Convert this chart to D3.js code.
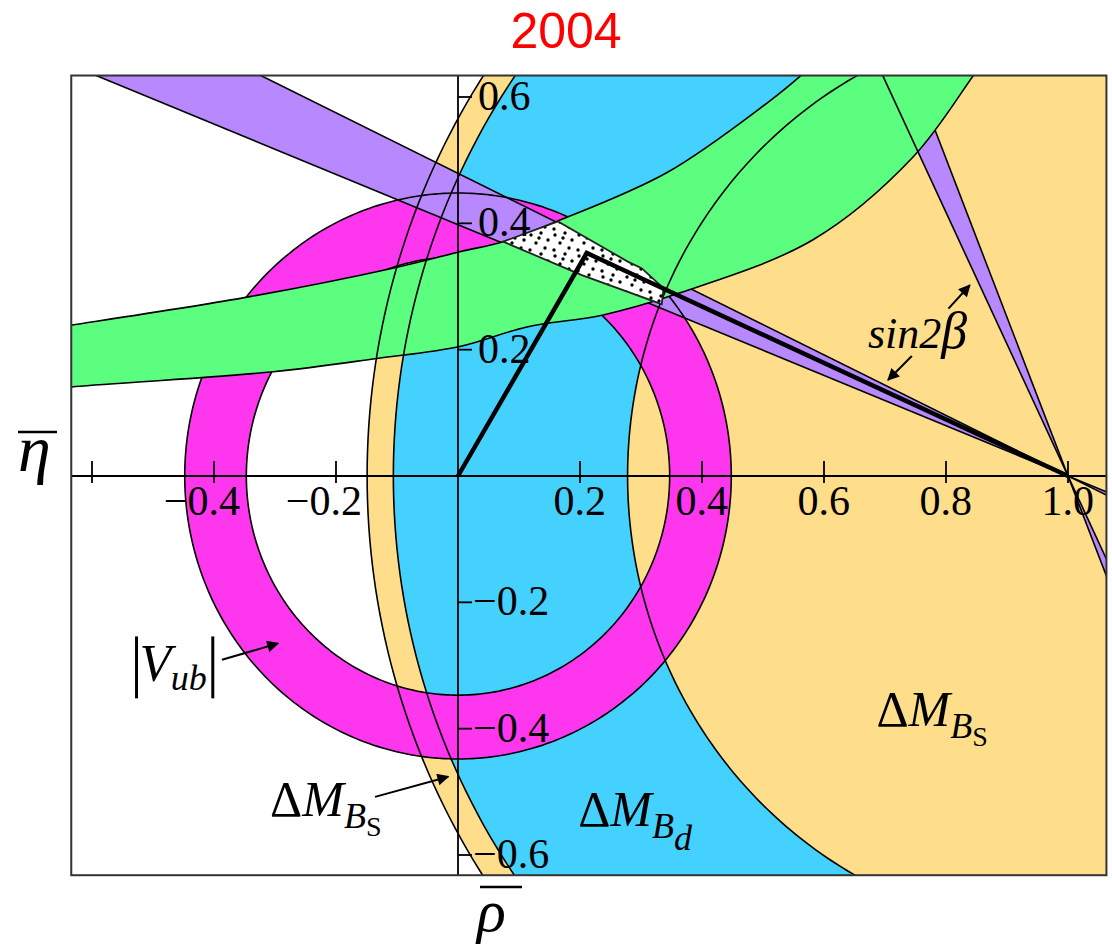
<!DOCTYPE html>
<html><head><meta charset="utf-8">
<script src="https://cdn.jsdelivr.net/npm/d3@7"></script>
<style>body{margin:0;background:#fff}svg{display:block}</style>
</head><body><svg id="c" width="1112" height="949"></svg>
<script>
// ---------------- data (data units rho/eta) ----------------
const rhoTicks = [-0.6, -0.4, -0.2, 0.2, 0.4, 0.6, 0.8, 1.0];
const rhoTickLabels = ["", "−0.4", "−0.2", "0.2", "0.4", "0.6", "0.8", "1.0"];
const etaTicks = [0.6, 0.4, 0.2, -0.2, -0.4, -0.6];
const etaTickLabels = ["0.6", "0.4", "0.2", "−0.2", "−0.4", "−0.6"];
const rhoRange = [-0.634, 1.063];
const etaRange = [-0.632, 0.634];

// |Vub| ring centred at origin
const vubCenter = [0, 0];
const vubRadii = [0.347, 0.448];
// Delta M circles centred at (1,0)
const dmCenter = [1, 0];
const dmdRadii = [0.722, 1.106];
const dmsRadius = 1.149;
// sin2beta: allowed beta range (degrees); two solutions beta and 90-beta
const betaRange = [21.7, 25.6];
// epsilon_K band boundaries
const epsKUpper = [[-0.66,0.235],[-0.633,0.239],[-0.341,0.284],[-0.107,0.329],[0.003,0.355],[0.074,0.371],[0.162,0.403],[0.342,0.48],[0.506,0.590],[0.561,0.633],[0.59,0.66]];
const epsKLower = [[-0.66,0.138],[-0.633,0.141],[-0.303,0.165],[-0.133,0.186],[0.003,0.205],[0.113,0.236],[0.238,0.255],[0.364,0.290],[0.582,0.374],[0.746,0.505],[0.844,0.633],[0.864,0.66]];
// combined allowed region
const allowedRegion = [[0.074,0.371],[0.164,0.403],[0.279,0.339],[0.301,0.329],[0.337,0.297],[0.334,0.272],[0.203,0.318]];
// unitarity triangle
const triangle = [[0,0],[0.211,0.353],[1,0]];

// annotations (anchors in data units)
const sinLabelPos = [0.672, 0.203];
const sinArrows = [[[0.804,0.265],[0.839,0.302]], [[0.744,0.190],[0.705,0.152]]];
const vubLabelPos = [-0.522, -0.325];
const vubSubPos = [-0.471, -0.339];
const vubBars = [[-0.527, -0.402], [-0.254, -0.352]];
const vubArrow = [[-0.387,-0.291],[-0.295,-0.265]];
const dmsLeftPos = [-0.308, -0.539];
const dmsLeftArrow = [[-0.136,-0.508],[-0.016,-0.476]];
const dmdPos = [0.197, -0.554];
const dmsRightPos = [0.686, -0.396];

// ---------------- drawing ----------------
const SERIF = "'Liberation Serif','Times New Roman',serif";
const YEL = "#FEDE8B", BLUE = "#45D1FE", MAG = "#FE36EE", GREEN = "#5BFE7E", PURP = "#B888FE";
const svg = d3.select("#c");
const x = d3.scaleLinear().domain([-0.6, 1.0]).range([92, 1068]);
const y = d3.scaleLinear().domain([-0.6, 0.6]).range([855, 97]);
const X0 = x(rhoRange[0]), X1 = x(rhoRange[1]), Y0 = y(etaRange[1]), Y1 = y(etaRange[0]);

const defs = svg.append("defs");
defs.append("clipPath").attr("id", "clip").append("rect")
  .attr("x", X0).attr("y", Y0).attr("width", X1 - X0).attr("height", Y1 - Y0);
const pat = defs.append("pattern").attr("id", "dots").attr("patternUnits", "userSpaceOnUse")
  .attr("width", 24).attr("height", 21);
pat.append("rect").attr("width", 24).attr("height", 21).attr("fill", "#fff");
[[3,4],[13,2],[20,9],[8,12],[17,17],[2,19],[11,7]].forEach(p =>
  pat.append("circle").attr("cx", p[0]).attr("cy", p[1]).attr("r", 1.7).attr("fill", "#000"));
defs.append("marker").attr("id", "arr").attr("viewBox", "0 0 10 10")
  .attr("refX", 9).attr("refY", 5).attr("markerWidth", 15).attr("markerHeight", 12)
  .attr("markerUnits", "userSpaceOnUse").attr("orient", "auto")
  .append("path").attr("d", "M0,0 L10,5 L0,10 z").attr("fill", "#000");

const line = d3.line().x(d => x(d[0])).y(d => y(d[1]));
const curve = d3.line().x(d => x(d[0])).y(d => y(d[1])).curve(d3.curveCatmullRom.alpha(0.5));
const rad = Math.PI / 180;
function circ(c, r) {
  const pts = d3.range(0, 360, 1).map(a => [c[0] + r * Math.cos(a * rad), c[1] + r * Math.sin(a * rad)]);
  return line(pts) + "Z";
}
const L = 4;
function dir(a) { return [-Math.cos(a * rad), Math.sin(a * rad)]; }
function wedge(a1, a2) {
  const d1 = dir(a1), d2 = dir(a2), c = dmCenter;
  const pts = [[c[0] + L*d1[0], c[1] + L*d1[1]], [c[0] + L*d2[0], c[1] + L*d2[1]], c,
               [c[0] - L*d2[0], c[1] - L*d2[1]], [c[0] - L*d1[0], c[1] - L*d1[1]], c];
  return line(pts) + "Z";
}
function ray(a) {
  const d = dir(a), c = dmCenter;
  return line([[c[0] + L*d[0], c[1] + L*d[1]], [c[0] - L*d[0], c[1] - L*d[1]]]);
}

const g = svg.append("g").attr("clip-path", "url(#clip)");
// fills
g.append("path").attr("d", circ(dmCenter, dmsRadius)).attr("fill", YEL);
g.append("path").attr("d", circ(dmCenter, dmdRadii[1]) + circ(dmCenter, dmdRadii[0]))
  .attr("fill", BLUE).attr("fill-rule", "evenodd");
g.append("path").attr("d", circ(vubCenter, vubRadii[1]) + circ(vubCenter, vubRadii[0]))
  .attr("fill", MAG).attr("fill-rule", "evenodd");
const shallow = betaRange, steep = [90 - betaRange[1], 90 - betaRange[0]];
g.append("path").attr("d", wedge(shallow[0], shallow[1])).attr("fill", PURP);
g.append("path").attr("d", wedge(steep[0], steep[1])).attr("fill", PURP);
// strokes under the epsilon_K band
const stroke = (sel, w) => sel.attr("fill", "none").attr("stroke", "#000").attr("stroke-width", w || 1.6);
vubRadii.forEach(r => stroke(g.append("path").attr("d", circ(vubCenter, r))));
shallow.forEach(a => stroke(g.append("path").attr("d", ray(a))));
stroke(g.append("path").attr("d", ray(steep[1])));
// epsilon_K band
const lowRev = epsKLower.slice().reverse();
g.append("path").attr("d", curve(epsKUpper) + curve(lowRev).replace(/^M/, "L") + "Z").attr("fill", GREEN);
stroke(g.append("path").attr("d", curve(epsKUpper)));
stroke(g.append("path").attr("d", curve(epsKLower)));
// Delta M curves on top
[dmsRadius, dmdRadii[1], dmdRadii[0]].forEach(r => stroke(g.append("path").attr("d", circ(dmCenter, r))));
stroke(g.append("path").attr("d", ray(steep[0])));
// allowed region
g.append("path").attr("d", line(allowedRegion) + "Z").attr("fill", "url(#dots)")
  .attr("stroke", "#222").attr("stroke-width", 1.8);
// triangle
g.append("path").attr("d", line(triangle)).attr("fill", "none").attr("stroke", "#000")
  .attr("stroke-width", 4.5).attr("stroke-linejoin", "miter");

// axes
svg.append("line").attr("x1", X0).attr("x2", X1).attr("y1", y(0)).attr("y2", y(0))
  .attr("stroke", "#000").attr("stroke-width", 1.8);
svg.append("line").attr("x1", x(0)).attr("x2", x(0)).attr("y1", Y0).attr("y2", Y1)
  .attr("stroke", "#000").attr("stroke-width", 1.8);
rhoTicks.forEach((t, i) => {
  svg.append("line").attr("x1", x(t)).attr("x2", x(t)).attr("y1", y(0) - 15).attr("y2", y(0) + 7)
    .attr("stroke", "#000").attr("stroke-width", 1.8);
  if (rhoTickLabels[i]) svg.append("text").attr("x", x(t) + 26).attr("y", y(0) + 39)
    .attr("text-anchor", "end").attr("font-family", SERIF).attr("font-size", 42).text(rhoTickLabels[i]);
});
etaTicks.forEach((t, i) => {
  svg.append("line").attr("x1", x(0)).attr("x2", x(0) + 14).attr("y1", y(t)).attr("y2", y(t))
    .attr("stroke", "#000").attr("stroke-width", 1.8);
  svg.append("text").attr("x", x(0) + (t < 0 ? 15 : 20)).attr("y", y(t) + 13)
    .attr("font-family", SERIF).attr("font-size", 42).text(etaTickLabels[i]);
});
// frame
svg.append("rect").attr("x", X0).attr("y", Y0).attr("width", X1 - X0).attr("height", Y1 - Y0)
  .attr("fill", "none").attr("stroke", "#333").attr("stroke-width", 2);

// title
svg.append("text").attr("x", 566).attr("y", 48).attr("text-anchor", "middle")
  .attr("font-family", "'Liberation Sans',Arial,sans-serif").attr("font-size", 50).attr("fill", "#FF0000").text("2004");
// axis titles
svg.append("text").attr("x", 18).attr("y", 471).attr("font-family", SERIF).attr("font-style", "italic")
  .attr("font-size", 66).text("η");
svg.append("line").attr("x1", 18).attr("x2", 57).attr("y1", 432).attr("y2", 432).attr("stroke", "#000").attr("stroke-width", 2.5);
svg.append("text").attr("x", 477).attr("y", 931).attr("font-family", SERIF).attr("font-style", "italic")
  .attr("font-size", 60).text("ρ");
svg.append("line").attr("x1", 480).attr("x2", 522).attr("y1", 887).attr("y2", 887).attr("stroke", "#000").attr("stroke-width", 2.5);

// annotations
function arrow(a) {
  svg.append("line").attr("x1", x(a[0][0])).attr("y1", y(a[0][1])).attr("x2", x(a[1][0])).attr("y2", y(a[1][1]))
    .attr("stroke", "#000").attr("stroke-width", 2).attr("marker-end", "url(#arr)");
}
const st = svg.append("text").attr("x", x(sinLabelPos[0])).attr("y", y(sinLabelPos[1]))
  .attr("font-family", SERIF).attr("font-style", "italic").attr("font-size", 44);
st.append("tspan").text("sin2");
st.append("tspan").attr("font-size", 52).text("β");
sinArrows.forEach(arrow);

svg.append("text").attr("x", x(vubLabelPos[0])).attr("y", y(vubLabelPos[1])).attr("font-family", SERIF)
  .attr("font-style", "italic").attr("font-size", 52).text("V");
svg.append("text").attr("x", x(vubSubPos[0])).attr("y", y(vubSubPos[1])).attr("font-family", SERIF)
  .attr("font-style", "italic").attr("font-size", 36).text("ub");
vubBars[0].forEach(r => svg.append("line").attr("x1", x(r)).attr("x2", x(r))
  .attr("y1", y(vubBars[1][0])).attr("y2", y(vubBars[1][1])).attr("stroke", "#000").attr("stroke-width", 3));
arrow(vubArrow);

function dmLabel(pos, sub, subItalic) {
  const t = svg.append("text").attr("x", x(pos[0])).attr("y", y(pos[1])).attr("font-family", SERIF).attr("font-size", 50);
  t.append("tspan").text("Δ");
  t.append("tspan").attr("font-style", "italic").text("M");
  t.append("tspan").attr("font-style", "italic").attr("font-size", 36).attr("dy", 12).text("B");
  t.append("tspan").attr("font-style", subItalic ? "italic" : "normal").attr("font-size", subItalic ? 36 : 28)
    .attr("dy", subItalic ? 12 : 8).text(sub);
}
dmLabel(dmsLeftPos, "S", false);
arrow(dmsLeftArrow);
dmLabel(dmdPos, "d", true);
dmLabel(dmsRightPos, "S", false);
</script></body></html>
